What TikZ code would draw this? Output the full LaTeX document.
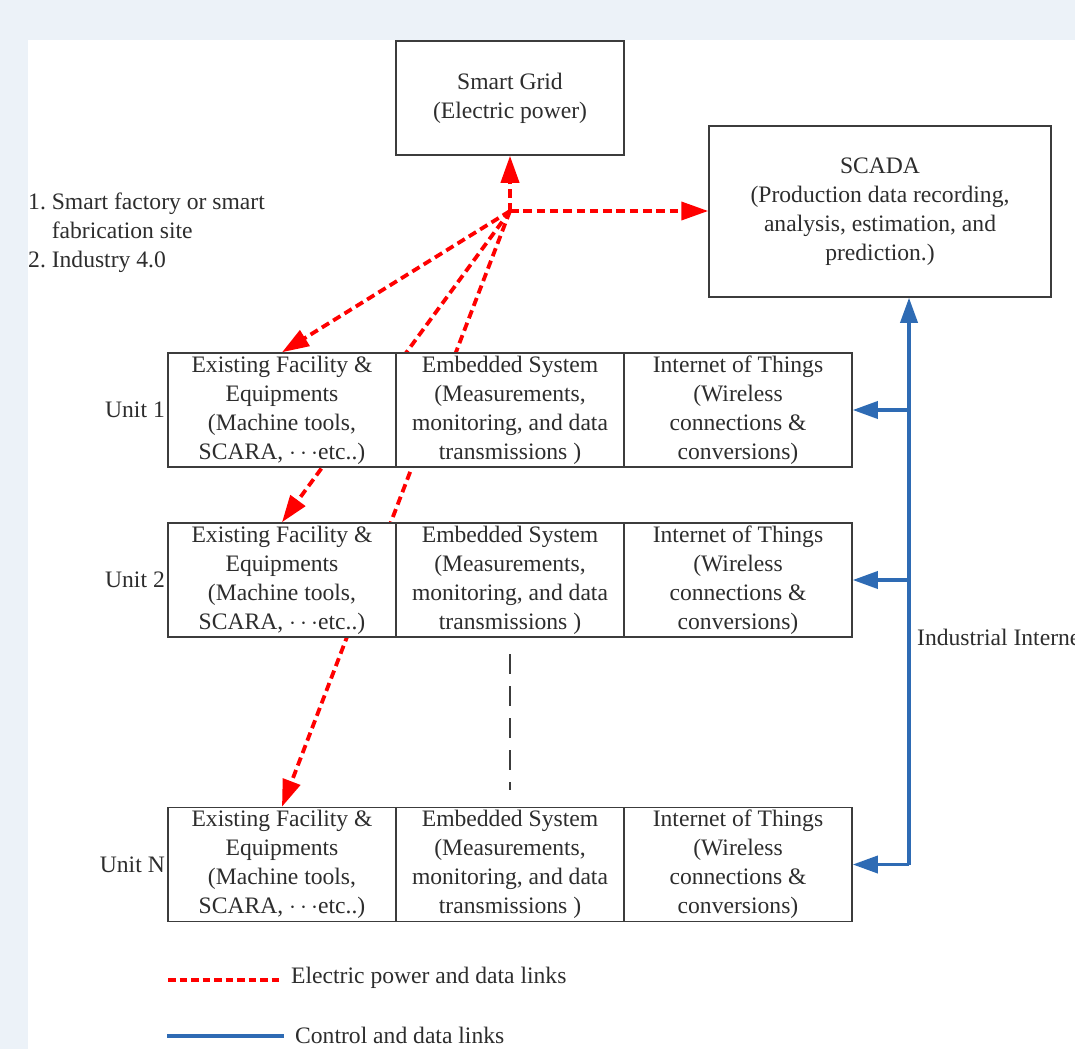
\documentclass[tikz,border=0pt]{standalone}
\usepackage{fontspec}
\setmainfont{Liberation Serif}
\usetikzlibrary{arrows.meta}
\definecolor{bgblue}{RGB}{236,242,248}
\definecolor{txt}{RGB}{45,45,45}
\definecolor{linkred}{RGB}{255,0,0}
\definecolor{linkblue}{RGB}{46,107,180}
\definecolor{boxline}{RGB}{60,60,60}
\pgfdeclarelayer{bottom}
\pgfdeclarelayer{back}
\pgfsetlayers{bottom,back,main}
\begin{document}
\begin{tikzpicture}[x=1pt,y=-1pt,
  every node/.style={font=\fontsize{23.6}{29}\selectfont, text=txt},
  cell/.style={draw=boxline, line width=1.5pt, fill=white, minimum width=228pt, minimum height=114pt, inner sep=0pt, align=center},
  label/.style={inner sep=0pt},
  power/.style={draw=linkred, line width=3.8pt, dash pattern=on 8.5pt off 4.8pt, -{Triangle[length=27pt,width=18pt]}},
  ctrl/.style={draw=linkblue, line width=3.5pt, -{Triangle[length=25pt,width=17pt]}},
  ellipsisline/.style={draw=boxline, line width=2.5pt, dash pattern=on 20pt off 12pt}
]
\useasboundingbox (0,0) rectangle (1075,1049);
\begin{pgfonlayer}{bottom}
\fill[bgblue] (0,0) rectangle (1075,1049);
\fill[white] (28,40) rectangle (1075,1049);
\end{pgfonlayer}

% top boxes
\node[cell] (sg) at (510,98) {Smart Grid\\(Electric power)};
\node[cell, minimum width=342pt, minimum height=171pt] (scada) at (880,211.5) {SCADA\\(Production data recording,\\analysis, estimation, and\\prediction.)};

% left text
\node[label, align=left, anchor=base west] (ctx) at (28,267) {1.~Smart factory or smart\\\hphantom{1.~}fabrication site\\2.~Industry 4.0};

% unit rows
\foreach \r/\y/\lab in {1/410/Unit 1, 2/580/Unit 2, N/864.5/Unit N}{
  \node[cell] (u\r a) at (282,\y) {Existing Facility \&\\Equipments\\(Machine tools,\\SCARA, $\cdots$etc..)};
  \node[cell] (u\r b) at (510,\y) {Embedded System\\(Measurements,\\monitoring, and data\\transmissions )};
  \node[cell] (u\r c) at (738,\y) {Internet of Things\\(Wireless\\connections \&\\conversions)};
  \node[label, anchor=east] (ul\r) at (165,\y) {\lab};
}

% red power & data links (behind boxes)
\coordinate (hub) at (510,211);
\begin{pgfonlayer}{back}
\draw[power] (hub) -- (sg.south);
\draw[power] (hub) -- (scada.west |- hub);
\draw[power] (hub) -- (u1a.north);
\draw[power] (hub) -- (u2a.north);
\draw[power] (hub) -- (uNa.north);
\end{pgfonlayer}

% ellipsis between unit 2 and unit N
\draw[ellipsisline] (510,654) coordinate (dotsA) -- (510,790) coordinate (dotsB);

% blue control & data links
\coordinate (bus) at (909,864.5);
\draw[ctrl] (bus) -- (bus |- scada.south);
\draw[ctrl] (u1c.east -| bus) -- (u1c.east);
\draw[ctrl] (u2c.east -| bus) -- (u2c.east);
\draw[ctrl] (bus) -- (uNc.east);
\node[label, anchor=west] (ii) at (917,637) {Industrial Internet};

% legend
\coordinate (lr1) at (168,980);
\coordinate (lr2) at (279,980);
\draw[power, -, dash pattern=on 7.5pt off 4pt] (lr1) -- (lr2);
\node[label, anchor=west] (lrt) at (291,978) {Electric power and data links};
\coordinate (lb1) at (167,1036);
\coordinate (lb2) at (284,1036);
\draw[ctrl, -] (lb1) -- (lb2);
\node[label, anchor=west] (lbt) at (295,1035) {Control and data links};
\end{tikzpicture}
\end{document}
